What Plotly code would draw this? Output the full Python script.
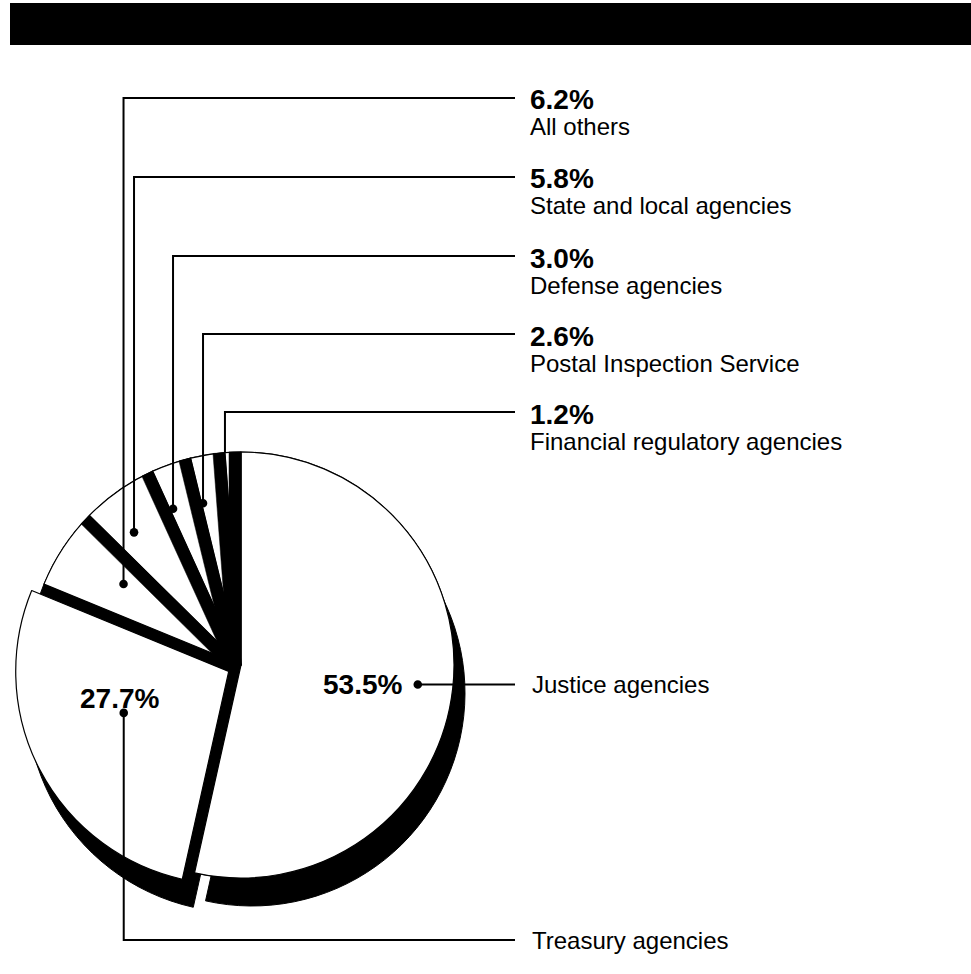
import numpy as np
import plotly.graph_objects as go

W, H = 971, 974

# ---------------- data ----------------
categories = ["Justice agencies", "Treasury agencies", "All others",
              "State and local agencies", "Defense agencies",
              "Postal Inspection Service", "Financial regulatory agencies"]
shares = [53.5, 27.7, 6.2, 5.8, 3.0, 2.6, 1.2]
share_labels = ["53.5%", "27.7%", "6.2%", "5.8%", "3.0%", "2.6%", "1.2%"]

# ---------------- style / layout constants ----------------
CX, CY, R = 241, 665, 213          # pie centre and radius (px)
PULL = [0, 0.065, 0, 0, 0, 0, 0]   # exploded Treasury slice
SHADOW_DX, SHADOW_DY = 11, 28      # drop shadow offset
BAND_W = 12                        # black side walls of the thin slices
LEADER_FRAC = [0.5, 0.56, 0.55, 0.31, 0.09, 0.05, 0.0]   # angular position of dot in slice
LEADER_R = [0.835, 0.53, 0.67, 0.80, 0.80, 0.78, 1.0]     # dot radius (fraction of R)
LEADER_DOT = [True, True, True, True, True, True, False]
TOP_LINE_Y = [None, None, 98, 177, 256, 334, 412]         # label rows, top right
LINE_END_X = 515
TEXT_X = 528
TREASURY_LINE_Y = 940
BAR_Y0, BAR_Y1 = 3, 45
FONT = "Liberation Sans, Arial, Helvetica, sans-serif"
BOLD = 28
REG = 24


def px(x):
    return x / W


def py(y):
    return 1 - y / H


def domain(cx, cy, r, pull):
    half = r * (1 + max(pull))
    return dict(x=[px(cx - half), px(cx + half)], y=[py(cy + half), py(cy - half)])


vals = np.array(shares, dtype=float)
cum = np.concatenate([[0.0], np.cumsum(vals)]) / vals.sum() * 360.0
start, end = cum[:-1], cum[1:]


def pt(theta, r, cx=CX, cy=CY):
    t = np.radians(theta)
    return cx + r * np.sin(t), cy - r * np.cos(t)


common = dict(values=shares, labels=categories, sort=False, direction="clockwise",
              rotation=0, textinfo="none", hoverinfo="skip", showlegend=False)

fig = go.Figure()
# drop shadow
fig.add_trace(go.Pie(**common, pull=PULL,
                     domain=domain(CX + SHADOW_DX, CY + SHADOW_DY, R, PULL),
                     marker=dict(colors=["black"] * len(shares), line=dict(color="black", width=1))))
# black base (shows through the gaps of the exploded slice)
fig.add_trace(go.Pie(**common, pull=[0] * len(shares),
                     domain=domain(CX, CY, R, [0]),
                     marker=dict(colors=["black"] * len(shares), line=dict(color="black", width=1))))
# white slices
fig.add_trace(go.Pie(**common, pull=PULL,
                     domain=domain(CX, CY, R, PULL),
                     marker=dict(colors=["white"] * len(shares), line=dict(color="black", width=1.2))))

shapes = []
# header bar
shapes.append(dict(type="rect", xref="paper", yref="paper", x0=px(10), x1=px(971),
                   y0=py(BAR_Y1), y1=py(BAR_Y0), fillcolor="black", line=dict(width=0), layer="above"))

# side walls of thin slices (boundaries between small slices and at 12 o'clock)
for i in range(2, len(shares)):
    t = np.radians(end[i])
    ux, uy = np.sin(t), -np.cos(t)
    nx, ny = -np.cos(t), -np.sin(t)
    p0 = (CX, CY)
    p1 = (CX + R * ux, CY + R * uy)
    p2 = (p1[0] + BAND_W * nx, p1[1] + BAND_W * ny)
    p3 = (CX + BAND_W * nx, CY + BAND_W * ny)
    path = "M {},{} L {},{} L {},{} L {},{} Z".format(
        px(p0[0]), py(p0[1]), px(p1[0]), py(p1[1]), px(p2[0]), py(p2[1]), px(p3[0]), py(p3[1]))
    shapes.append(dict(type="path", xref="paper", yref="paper", path=path,
                       fillcolor="black", line=dict(color="black", width=0.5), layer="above"))

annotations = []


def dot(x, y, r=4.3):
    shapes.append(dict(type="circle", xref="paper", yref="paper",
                       x0=px(x - r), x1=px(x + r), y0=py(y + r), y1=py(y - r),
                       fillcolor="black", line=dict(color="black", width=0), layer="above"))


def poly(points, width=2):
    path = "M " + " L ".join("{},{}".format(px(a), py(b)) for a, b in points)
    shapes.append(dict(type="path", xref="paper", yref="paper", path=path,
                       line=dict(color="black", width=width), layer="above"))


def text(x, y, s, size, bold=False, xanchor="left"):
    annotations.append(dict(x=px(x), y=py(y), xref="paper", yref="paper", text=s,
                            showarrow=False, xanchor=xanchor, yanchor="middle",
                            font=dict(family=FONT, size=size, color="black",
                                      weight="bold" if bold else "normal")))


for i in range(len(shares)):
    cx, cy = CX, CY
    theta_mid = (start[i] + end[i]) / 2
    if PULL[i]:
        cx, cy = pt(theta_mid, PULL[i] * R)
    theta = start[i] + LEADER_FRAC[i] * (end[i] - start[i])
    dx, dy = pt(theta, LEADER_R[i] * R, cx, cy)
    if LEADER_DOT[i]:
        dot(dx, dy)
    if i == 0:  # Justice: horizontal leader to the right
        poly([(dx, dy), (LINE_END_X, dy)])
        text(dx - 14, dy, share_labels[i], BOLD, True, "right")
        text(TEXT_X + 2, dy, categories[i], REG)
    elif i == 1:  # Treasury: down then right
        poly([(dx, dy), (dx, TREASURY_LINE_Y), (LINE_END_X, TREASURY_LINE_Y)])
        text(dx - 4, dy - 14, share_labels[i], BOLD, True, "center")
        text(TEXT_X + 2, TREASURY_LINE_Y, categories[i], REG)
    else:  # thin slices: up then right to the label column
        ly = TOP_LINE_Y[i]
        poly([(dx, dy), (dx, ly), (LINE_END_X, ly)])
        text(TEXT_X, ly + 2, share_labels[i], BOLD, True)
        text(TEXT_X, ly + 29, categories[i], REG)

fig.update_layout(width=W, height=H, margin=dict(l=0, r=0, t=0, b=0),
                  paper_bgcolor="white", plot_bgcolor="white", showlegend=False,
                  shapes=shapes, annotations=annotations)
fig.write_html("out.html", config={"displayModeBar": False, "staticPlot": True},
               post_script="document.body.style.margin='0';document.body.style.overflow='hidden';")
